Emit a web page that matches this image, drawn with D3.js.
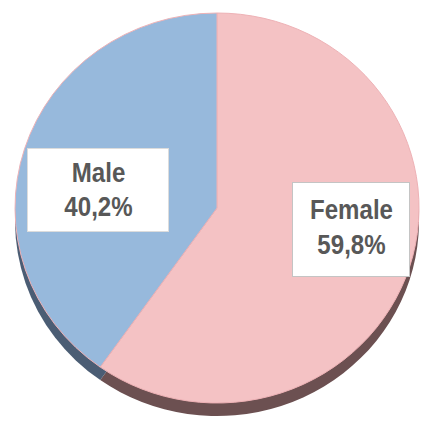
<!DOCTYPE html>
<html><head><meta charset="utf-8">
<script src="https://cdn.jsdelivr.net/npm/d3@7"></script>
<style>body{margin:0;background:#fff}svg{display:block}</style>
</head><body>
<script>
const categories = ["Female", "Male"];
const values = [59.8, 40.2];
const labels = ["59,8%", "40,2%"];

const topColors = {Female: "#f4c2c4", Male: "#97b9dc"};
const sideColors = {Female: "#6c5051", Male: "#4b5d74"};

const W = 442, H = 433;
const cx = 217, cy = 208, rx = 202, ry = 195, depth = 13;

const svg = d3.select("body").append("svg").attr("width", W).attr("height", H);

const data = categories.map((c, i) => ({cat: c, value: values[i], label: labels[i]}));
const pie = d3.pie().sort(null).value(d => d.value).startAngle(0).endAngle(2 * Math.PI);
const arcs = pie(data);
const arc = d3.arc().innerRadius(0).outerRadius(1);

// depth (side) layer
svg.append("g").attr("transform", `translate(${cx},${cy + depth}) scale(${rx},${ry})`)
  .selectAll("path").data(arcs).join("path")
  .attr("d", arc).attr("fill", d => sideColors[d.data.cat]);

// top face
svg.append("g").attr("transform", `translate(${cx},${cy}) scale(${rx},${ry})`)
  .selectAll("path").data(arcs).join("path")
  .attr("d", arc).attr("fill", d => topColors[d.data.cat])
  .attr("stroke", "#eeb2b6").attr("stroke-width", 1)
  .attr("vector-effect", "non-scaling-stroke");

// label boxes (layout positions)
const boxes = {
  Male: {x: 27, y: 148, w: 141, h: 83, b1: 182, b2: 216},
  Female: {x: 292, y: 182, w: 117, h: 94, b1: 219, b2: 254}
};
const lg = svg.append("g");
arcs.forEach(a => {
  const b = boxes[a.data.cat];
  lg.append("rect").attr("x", b.x + 0.5).attr("y", b.y + 0.5).attr("width", b.w).attr("height", b.h)
    .attr("fill", "#fff").attr("stroke", a.data.cat === "Female" ? "#c4c4c4" : "#dcdcdc").attr("stroke-width", 1);
  const tx = b.x + b.w / 2 + 1;
  [[a.data.cat, b.b1], [a.data.label, b.b2]].forEach(([t, y]) => {
    lg.append("text")
      .attr("transform", `translate(${tx},${y}) scale(0.86,1)`)
      .attr("text-anchor", "middle")
      .attr("font-family", "Liberation Sans, Arial, sans-serif")
      .attr("font-weight", "bold").attr("font-size", 28)
      .attr("fill", "#585858").text(t);
  });
});
</script>
</body></html>
